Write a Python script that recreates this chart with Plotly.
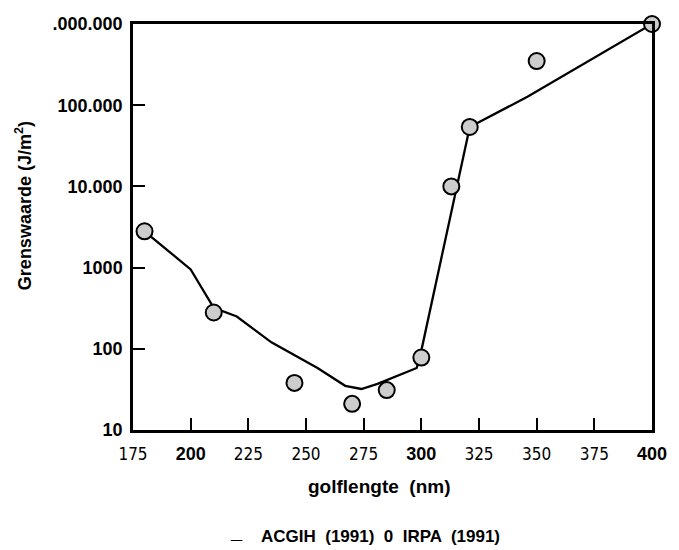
import plotly.graph_objects as go

# ACGIH (1991) curve
wl_acgih = [180, 190, 200, 210, 220, 235, 255, 267, 274, 281, 298, 300, 321, 346, 400]
val_acgih = [2800, 1650, 950, 320, 250, 120, 58, 35, 32, 37, 58, 95, 54000, 127000, 1000000]

# IRPA (1991) points
wl_irpa = [180, 210, 245, 270, 285, 300, 313, 321, 350, 400]
val_irpa = [2800, 280, 38, 21, 31, 78, 10000, 54000, 350000, 1000000]

x_ticks = [175, 200, 225, 250, 275, 300, 325, 350, 375, 400]
x_bold = [200, 300, 400]
y_ticks = [10, 100, 1000, 10000, 100000, 1000000]
y_labels = ["10", "100", "1000", "10.000", "100.000", ".000.000"]

def xlab(v):
    if v in x_bold:
        return f'<span style="font-family:Liberation Sans, Arial; font-weight:bold; font-size:18px">{v}</span>'
    return str(v)

fig = go.Figure()
fig.add_trace(go.Scatter(x=wl_acgih, y=val_acgih, mode="lines",
                         line=dict(color="black", width=2.3), showlegend=False,
                         cliponaxis=False))
fig.add_trace(go.Scatter(x=wl_irpa, y=val_irpa, mode="markers",
                         marker=dict(size=16, color="#cdcdcd", line=dict(color="black", width=2)),
                         showlegend=False, cliponaxis=False))

fig.update_layout(
    width=679, height=550,
    margin=dict(l=133, r=17, t=24, b=120),
    paper_bgcolor="white", plot_bgcolor="white",
    font=dict(family="Liberation Sans, Arial, sans-serif", color="black"),
)
fig.update_xaxes(
    range=[175, 400], tickvals=x_ticks, ticktext=[xlab(v) for v in x_ticks],
    tickfont=dict(family="Liberation Sans Narrow, DejaVu Sans Condensed, sans-serif", size=17, color="black"),
    ticks="inside", ticklen=12, tickwidth=2, tickcolor="black",
    showline=True, linewidth=2.5, linecolor="black", mirror=True,
    showgrid=False, zeroline=False, ticklabelstandoff=7,
)
fig.update_yaxes(
    type="log", range=[1, 6], tickvals=y_ticks, ticktext=y_labels,
    tickfont=dict(family="Liberation Sans, Arial, sans-serif", size=18, color="black", weight="bold"),
    ticks="inside", ticklen=12, tickwidth=2, tickcolor="black",
    showline=True, linewidth=2.5, linecolor="black", mirror=True,
    showgrid=False, zeroline=False, ticklabelstandoff=4,
)

fig.add_annotation(text="<b>Grenswaarde (J/m<sup>2</sup>)</b>", textangle=-90,
                   xref="paper", yref="paper", x=-0.2117, y=0.5517,
                   xanchor="center", yanchor="middle", showarrow=False,
                   font=dict(size=18, family="Liberation Sans, Arial, sans-serif"))
fig.add_annotation(text="<b>golflengte  (nm)</b>",
                   xref="paper", yref="paper", x=0.4745, y=-0.138,
                   xanchor="center", yanchor="middle", showarrow=False,
                   font=dict(size=19, family="Liberation Sans, Arial, sans-serif"))
# legend line symbol
fig.add_annotation(text="<b>_</b>",
                   xref="paper", yref="paper", x=(238 - 133) / 529, y=(430 - 531) / 406,
                   xanchor="center", yanchor="middle", showarrow=False,
                   font=dict(size=20, family="Liberation Sans, Arial, sans-serif"))
fig.add_annotation(text="<b>ACGIH  (1991)  0  IRPA  (1991)</b>",
                   xref="paper", yref="paper", x=(261 - 133) / 529, y=(430 - 536) / 406,
                   xanchor="left", yanchor="middle", showarrow=False,
                   font=dict(size=17, family="Liberation Sans, Arial, sans-serif"))

fig.write_html("out.html")
